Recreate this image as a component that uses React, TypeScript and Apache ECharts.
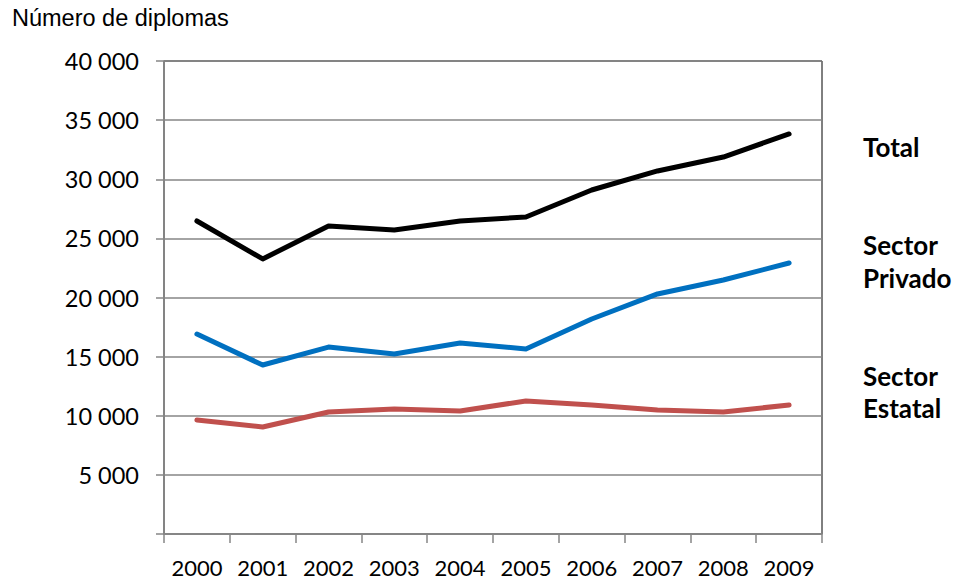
import React, { useEffect, useRef } from "react";
import * as echarts from "echarts";

const years = ["2000", "2001", "2002", "2003", "2004", "2005", "2006", "2007", "2008", "2009"];
const total = [26470, 23260, 26050, 25710, 26470, 26810, 29090, 30700, 31880, 33830];
const privado = [16910, 14290, 15810, 15220, 16150, 15650, 18180, 20300, 21480, 22920];
const estatal = [9640, 9050, 10320, 10570, 10400, 11250, 10910, 10490, 10320, 10910];
const yTicks = { min: 0, max: 40000, interval: 5000 };

export default function App() {
  const ref = useRef<HTMLDivElement>(null);
  useEffect(() => {
    const chart = echarts.init(ref.current!, null, { renderer: "svg" });
    const lineSeries = (name: string, data: number[], color: string) => ({
      name,
      type: "line",
      data,
      symbol: "none",
      lineStyle: { color, width: 5, cap: "round", join: "round" },
      z: 5,
    });
    const labelFont = "bold 26px Lato, 'Open Sans', sans-serif";
    const sideLabel = (text: string, y: number) => ({
      type: "text",
      x: 863,
      y,
      style: { text, fill: "#000", font: labelFont, verticalAlign: "middle", align: "left" },
    });
    chart.setOption({
      animation: false,
      backgroundColor: "#fff",
      grid: {
        left: 164,
        top: 61,
        right: 131,
        bottom: 49,
        show: true,
        borderColor: "#000",
        borderWidth: 1,
        backgroundColor: "transparent",
      },
      xAxis: {
        type: "category",
        data: years,
        boundaryGap: true,
        axisLine: { lineStyle: { color: "#868686", width: 1.5 } },
        axisTick: { show: true, interval: 0, length: 9, lineStyle: { color: "#868686", width: 1.5 } },
        axisLabel: {
          color: "#000",
          interval: 0,
          hideOverlap: false,
          fontFamily: "Lato, 'Open Sans', sans-serif",
          fontSize: 22,
          margin: 22,
        },
      },
      yAxis: {
        type: "value",
        min: yTicks.min,
        max: yTicks.max,
        interval: yTicks.interval,
        axisLine: { show: true, lineStyle: { color: "#868686", width: 1.5 } },
        axisTick: { show: true, length: 8, lineStyle: { color: "#868686", width: 1.5 } },
        splitLine: { lineStyle: { color: "#868686", width: 1.5 } },
        axisLabel: {
          color: "#000",
          fontFamily: "Lato, 'Open Sans', sans-serif",
          fontSize: 23.5,
          margin: 25,
          formatter: (v: number) => (v === 0 ? "" : v.toString().replace(/\B(?=(\d{3})+(?!\d))/g, " ")),
        },
      },
      series: [
        lineSeries("Total", total, "#000000"),
        lineSeries("Sector Privado", privado, "#0070C0"),
        lineSeries("Sector Estatal", estatal, "#C0504D"),
      ],
      graphic: [
        {
          type: "text",
          x: 12,
          y: 18,
          style: {
            text: "Número de diplomas",
            fill: "#000",
            font: "23.5px 'Liberation Sans', Arial, sans-serif",
            verticalAlign: "middle",
          },
        },
        sideLabel("Total", 147),
        sideLabel("Sector", 245),
        sideLabel("Privado", 277.5),
        sideLabel("Sector", 376),
        sideLabel("Estatal", 407.5),
      ],
    });
    return () => chart.dispose();
  }, []);
  return <div ref={ref} style={{ width: 953, height: 583, position: "absolute", left: 0, top: 0 }} />;
}
